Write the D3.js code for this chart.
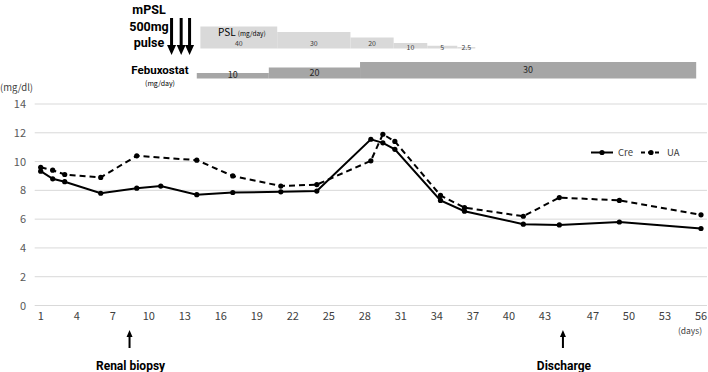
<!DOCTYPE html>
<html>
<head>
<meta charset="utf-8">
<script src="https://cdn.jsdelivr.net/npm/d3@7"></script>
<style>
  body { margin: 0; background: #fff; }
  text { font-family: "Noto Sans CJK JP", "Noto Sans", sans-serif; }
  text.bold { font-family: Roboto, "Noto Sans", sans-serif; font-weight: bold; }
</style>
</head>
<body>
<svg id="chart" width="708" height="372"></svg>
<script>
// measurement days and values (mg/dl)
var days = [1, 2, 3, 6, 9, 11, 14, 17, 21, 24, 28.5, 29.5, 30.5, 34.3, 36.3, 41.2, 44.2, 49.2, 56];
var cre  = [9.33, 8.8, 8.6, 7.8, 8.15, 8.3, 7.7, 7.85, 7.9, 7.95, 11.55, 11.3, 10.85, 7.3, 6.55, 5.65, 5.6, 5.8, 5.35];
var ua   = [9.6, 9.4, 9.1, 8.9, 10.4, null, 10.1, 9.0, 8.3, 8.4, 10.05, 11.9, 11.4, 7.65, 6.8, 6.2, 7.5, 7.3, 6.3];

var xTicks = [1, 4, 7, 10, 13, 16, 19, 22, 25, 28, 31, 34, 37, 40, 43, 47, 50, 53, 56];
var yTicks = [0, 2, 4, 6, 8, 10, 12, 14];

// treatment
var pulseDays = [11.9, 12.7, 13.4];
var pslDose = [40, 30, 20, 10, 5, 2.5];
var pslBreaks = [14.3, 20.7, 26.8, 30.4, 33.2, 35.7, 37.2];
var febuxDose = [10, 20, 30];
var febuxBreaks = [14, 20, 27.6, 55.6];

var events = [{day: 8.4, label: "Renal biopsy"}, {day: 44.5, label: "Discharge"}];

var svg = d3.select("#chart");

var x = d3.scaleLinear().domain([0.5, 56.5]).range([34.7, 707]);
var y = d3.scaleLinear().domain([0, 14]).range([305.5, 104]);
var h = d3.scaleLinear().domain([0, 40]).range([0, 22]);

// grid
svg.append("g").selectAll("line")
    .data(yTicks)
    .enter().append("line")
    .attr("x1", x.range()[0]).attr("x2", x.range()[1])
    .attr("y1", function(d) { return y(d); })
    .attr("y2", function(d) { return y(d); })
    .attr("stroke", "#d9d9d9").attr("stroke-width", 1);

svg.append("g").selectAll("text")
    .data(yTicks)
    .enter().append("text")
    .attr("x", 26).attr("y", function(d) { return y(d) + 4; })
    .attr("text-anchor", "end")
    .attr("font-size", 11).attr("fill", "#595959")
    .text(function(d) { return d; });

svg.append("text").attr("x", 0).attr("y", 91)
    .attr("font-size", 9.5).attr("fill", "#404040").text("(mg/dl)");

svg.append("g").selectAll("text")
    .data(xTicks)
    .enter().append("text")
    .attr("x", function(d) { return x(d); }).attr("y", 320)
    .attr("text-anchor", "middle")
    .attr("font-size", 11).attr("fill", "#404040")
    .text(function(d) { return d; });

svg.append("text").attr("x", 690).attr("y", 334)
    .attr("text-anchor", "middle")
    .attr("font-size", 8.5).attr("fill", "#404040").text("(days)");

// lines
var creData = days.map(function(d, i) { return {day: d, v: cre[i]}; });
var uaData = days.map(function(d, i) { return {day: d, v: ua[i]}; })
    .filter(function(d) { return d.v != null; });

var line = d3.line()
    .x(function(d) { return x(d.day); })
    .y(function(d) { return y(d.v); });

svg.append("path").datum(creData)
    .attr("d", line).attr("fill", "none")
    .attr("stroke", "#000").attr("stroke-width", 2);

svg.append("path").datum(uaData)
    .attr("d", line).attr("fill", "none")
    .attr("stroke", "#000").attr("stroke-width", 2)
    .attr("stroke-dasharray", "6,4");

[creData, uaData].forEach(function(data) {
    svg.append("g").selectAll("circle")
        .data(data)
        .enter().append("circle")
        .attr("cx", function(d) { return x(d.day); })
        .attr("cy", function(d) { return y(d.v); })
        .attr("r", 2.6).attr("fill", "#000");
});

// legend
var lg = svg.append("g");
lg.append("line").attr("x1", 591).attr("x2", 613).attr("y1", 152.5).attr("y2", 152.5)
    .attr("stroke", "#000").attr("stroke-width", 2);
lg.append("circle").attr("cx", 602).attr("cy", 152.5).attr("r", 2.6);
lg.append("text").attr("x", 618).attr("y", 156).attr("font-size", 9.5).attr("fill", "#404040").text("Cre");
lg.append("line").attr("x1", 641).attr("x2", 661).attr("y1", 152.5).attr("y2", 152.5)
    .attr("stroke", "#000").attr("stroke-width", 2).attr("stroke-dasharray", "4,3");
lg.append("circle").attr("cx", 651).attr("cy", 152.5).attr("r", 2.6);
lg.append("text").attr("x", 667).attr("y", 156).attr("font-size", 9.5).attr("fill", "#404040").text("UA");

// arrows
function arrow(g, cx, y0, y1, shaft, headW, headH) {
    g.append("path")
        .attr("d", "M" + (cx - shaft / 2) + "," + y0 +
            "L" + (cx + shaft / 2) + "," + y0 +
            "L" + (cx + shaft / 2) + "," + (y1 - headH) +
            "L" + (cx + headW / 2) + "," + (y1 - headH) +
            "L" + cx + "," + y1 +
            "L" + (cx - headW / 2) + "," + (y1 - headH) +
            "L" + (cx - shaft / 2) + "," + (y1 - headH) + "Z")
        .attr("fill", "#000");
}
function arrowUp(g, cx, y0, y1, shaft, headW, headH) {
    g.append("path")
        .attr("d", "M" + (cx - shaft / 2) + "," + y1 +
            "L" + (cx + shaft / 2) + "," + y1 +
            "L" + (cx + shaft / 2) + "," + (y0 + headH) +
            "L" + (cx + headW / 2) + "," + (y0 + headH) +
            "L" + cx + "," + y0 +
            "L" + (cx - headW / 2) + "," + (y0 + headH) +
            "L" + (cx - shaft / 2) + "," + (y0 + headH) + "Z")
        .attr("fill", "#000");
}

pulseDays.forEach(function(d) { arrow(svg, x(d), 18, 55, 3, 9, 10); });

svg.append("text").attr("class", "bold").attr("text-anchor", "middle")
    .attr("font-size", 12.5).attr("fill", "#000")
    .selectAll("tspan").data(["mPSL", "500mg", "pulse"])
    .enter().append("tspan")
    .attr("x", 149).attr("y", function(d, i) { return 14 + i * 16.5; })
    .text(function(d) { return d; });

events.forEach(function(e) {
    arrowUp(svg, x(e.day), 330, 348, 2, 6, 7);
    svg.append("text").attr("class", "bold").attr("x", x(e.day) + 1).attr("y", 370)
        .attr("text-anchor", "middle")
        .attr("font-size", 12).attr("fill", "#000").text(e.label);
});

// PSL steps
var pslBase = 48.5;
svg.append("g").selectAll("rect")
    .data(pslDose)
    .enter().append("rect")
    .attr("x", function(d, i) { return x(pslBreaks[i]); })
    .attr("width", function(d, i) { return x(pslBreaks[i + 1]) - x(pslBreaks[i]); })
    .attr("y", function(d) { return pslBase - h(d); })
    .attr("height", function(d) { return h(d); })
    .attr("fill", "#d9d9d9");

svg.append("g").selectAll("text")
    .data(pslDose)
    .enter().append("text")
    .attr("x", function(d, i) { return (x(pslBreaks[i]) + x(pslBreaks[i + 1])) / 2; })
    .attr("y", function(d) { return h(d) > 8 ? pslBase - 3 : pslBase + 1; })
    .attr("text-anchor", "middle").attr("font-size", 7).attr("fill", "#404040")
    .text(function(d) { return d; });

var pslLabel = svg.append("text").attr("x", 218).attr("y", 36).attr("fill", "#000");
pslLabel.append("tspan").attr("font-size", 10).text("PSL ");
pslLabel.append("tspan").attr("font-size", 6.5).text("(mg/day)");

// Febuxostat steps
var febBase = 78.5;
svg.append("g").selectAll("rect")
    .data(febuxDose)
    .enter().append("rect")
    .attr("x", function(d, i) { return x(febuxBreaks[i]); })
    .attr("width", function(d, i) { return x(febuxBreaks[i + 1]) - x(febuxBreaks[i]); })
    .attr("y", function(d) { return febBase - h(d); })
    .attr("height", function(d) { return h(d); })
    .attr("fill", "#a6a6a6");

svg.append("g").selectAll("text")
    .data(febuxDose)
    .enter().append("text")
    .attr("x", function(d, i) { return (x(febuxBreaks[i]) + x(febuxBreaks[i + 1])) / 2; })
    .attr("y", function(d) { return febBase - h(d) / 2 + 2.5; })
    .attr("text-anchor", "middle").attr("font-size", 9).attr("fill", "#262626")
    .text(function(d) { return d; });

svg.append("text").attr("class", "bold").attr("x", 160).attr("y", 74).attr("text-anchor", "middle")
    .attr("font-size", 11.5).text("Febuxostat");
svg.append("text").attr("x", 160).attr("y", 86).attr("text-anchor", "middle")
    .attr("font-size", 7).text("(mg/day)");
</script>
</body>
</html>
